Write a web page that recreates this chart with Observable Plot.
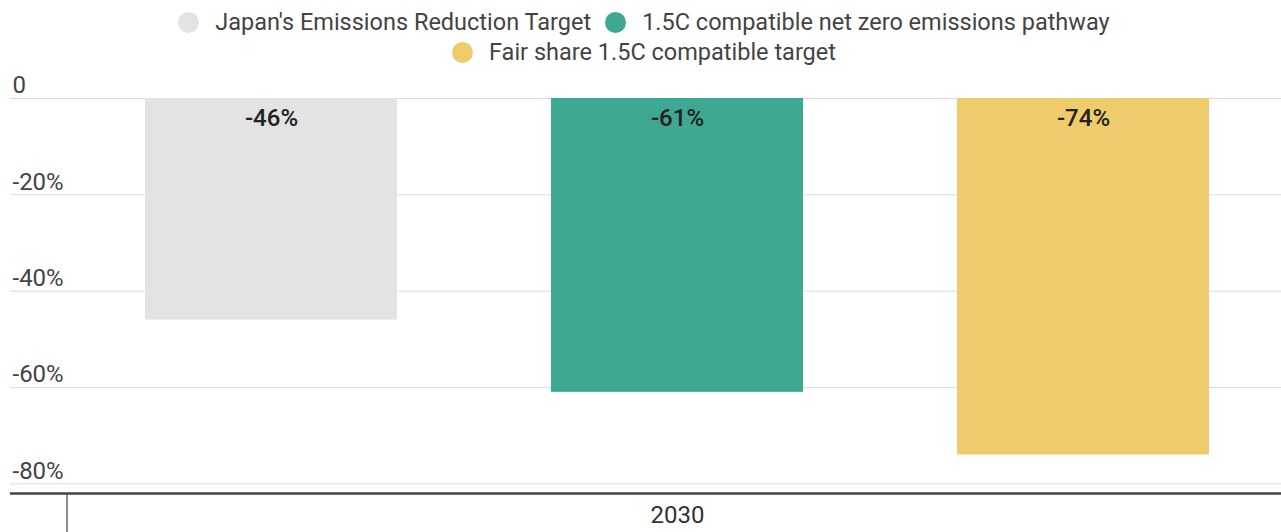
<!DOCTYPE html>
<html>
<head>
<meta charset="utf-8">
<script src="https://cdn.jsdelivr.net/npm/d3@7"></script>
<script src="https://cdn.jsdelivr.net/npm/@observablehq/plot@0.6"></script>
<style>
  html, body { margin: 0; padding: 0; background: #fff; }
  body { width: 1281px; height: 532px; overflow: hidden; font-family: Roboto, "Noto Sans", sans-serif; }
  #legend {
    box-sizing: border-box; height: 68px; padding-top: 7px;
    width: 1100px; margin-left: 94px;
    display: flex; flex-wrap: wrap; justify-content: center; align-content: flex-start;
    font-size: 23.5px; color: #444; line-height: 30px;
  }
  .item { display: flex; align-items: center; margin: 0 7px; white-space: nowrap; }
  .sw { width: 21px; height: 21px; border-radius: 50%; margin-right: 16px; display: inline-block; }
</style>
</head>
<body>
<div id="legend"></div>
<div id="chart"></div>
<script>
const series = ["Japan's Emissions Reduction Target", "1.5C compatible net zero emissions pathway", "Fair share 1.5C compatible target"];
const values = [-46, -61, -74];
const colors = ["#e3e3e3", "#3ea892", "#eecb6b"];
const years = ["2030"];
const yTicks = [0, -20, -40, -60, -80];
const yTickLabels = ["0", "-20%", "-40%", "-60%", "-80%"];
const valueLabels = ["-46%", "-61%", "-74%"];
const yMin = -82;

const data = series.map((s, i) => ({series: s, value: values[i], label: valueLabels[i], year: years[0]}));
const ticks = yTicks.map((v, i) => ({v, label: yTickLabels[i]}));

const legend = document.getElementById("legend");
series.forEach((s, i) => {
  const it = document.createElement("span");
  it.className = "item";
  it.innerHTML = `<span class="sw" style="background:${colors[i]}"></span>${s}`;
  legend.appendChild(it);
});

const xRange = [67, 1287];
const plot = Plot.plot({
  width: 1281,
  height: 464,
  marginLeft: 10,
  marginRight: 0,
  marginTop: 30,
  marginBottom: 39,
  style: {fontFamily: "Roboto, sans-serif", background: "#fff", overflow: "visible"},
  x: {domain: series, range: xRange, paddingInner: 0.38, paddingOuter: 0.19, axis: null},
  y: {domain: [yMin, 0], axis: null},
  color: {domain: series, range: colors},
  marks: [
    Plot.gridY(yTicks, {stroke: "#dcdcdc", strokeOpacity: 1, strokeWidth: 1}),
    Plot.barY(data, {x: "series", y: "value", fill: "series"}),
    Plot.text(data, {x: "series", y: 0, text: "label", dy: 20, fontSize: 24, fontWeight: 500, fill: "#222"}),
    Plot.text(ticks, {y: "v", text: "label", frameAnchor: "left", textAnchor: "start", lineAnchor: "middle", dx: 2, dy: -13, fontSize: 24, fill: "#444"}),
    Plot.ruleY([yMin], {stroke: "#444", strokeWidth: 2.5}),
    Plot.text(years, {x: () => series[Math.floor(series.length / 2)], frameAnchor: "bottom", lineAnchor: "middle", text: d => d, dy: 22, fontSize: 24, fill: "#333"})
  ]
});
document.getElementById("chart").appendChild(plot);

// group tick at the left edge of the 2030 category band
const xs = plot.scale("x"), ys = plot.scale("y");
d3.select(plot).append("line")
  .attr("x1", xs.range[0]).attr("x2", xs.range[0])
  .attr("y1", ys.apply(yMin)).attr("y2", 464)
  .attr("stroke", "#444").attr("stroke-width", 1.2);
</script>
</body>
</html>
